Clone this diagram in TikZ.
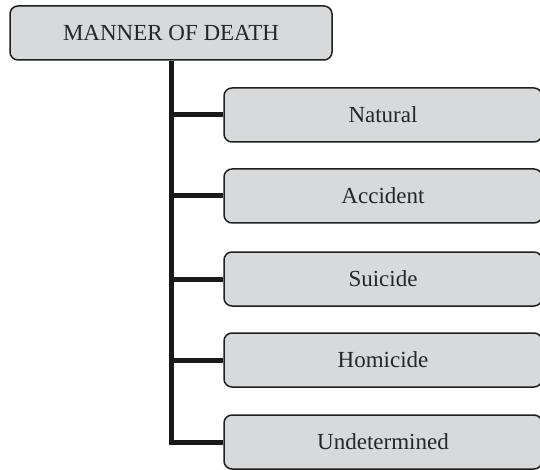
\documentclass[tikz,border=0pt]{standalone}
\usepackage{fontspec}
\setmainfont{Liberation Serif}
\begin{document}
\begin{tikzpicture}[x=1pt,y=-1pt,
  box/.style={draw=black!88, line width=1.5pt, fill=boxgray, rounded corners=8pt,
    inner sep=0pt, font=\fontsize{23}{26}\selectfont, text=black!85},
  link/.style={draw=black!90, line width=5pt}]
\definecolor{boxgray}{HTML}{D8D9DB}
\useasboundingbox (0,0) rectangle (540,470);
% root
\node[box, minimum width=322pt, minimum height=54pt] (root) at (171,33) {MANNER OF DEATH};
% children
\foreach \name/\y/\txt in {nat/115/Natural, acc/196/Accident, sui/279/Suicide,
                          hom/360/Homicide, und/442/Undetermined}
  \node[box, minimum width=318pt, minimum height=54pt] (\name) at (383,\y) {\txt};
% tree connectors
\coordinate (j) at (root.south -| 171.5,0);
\draw[link] (j) |- (und.west);
\foreach \name in {nat,acc,sui,hom}
  \draw[link] (j |- \name.west) -- (\name.west);
\end{tikzpicture}
\end{document}
